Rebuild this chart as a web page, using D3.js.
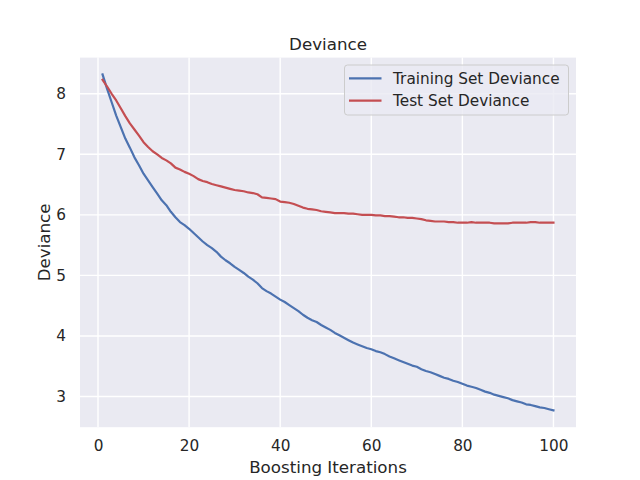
<!DOCTYPE html>
<html>
	<head>
		<title>Deviance</title>
		<script src="https://cdn.jsdelivr.net/npm/d3@7"></script>
		<style>
			body { margin: 0; background: white; }
			text {
			  font-family: "DejaVu Sans", sans-serif;
			  fill: #262626;
			}
			.grid line { stroke: white; stroke-width: 1.4; }
			.tick text { font-size: 15.3px; }
		</style>
	</head>
	<body>
		<svg width="640" height="480"></svg>

		<script type="text/javascript">
			// boosting iterations 1..100
			var iterations = d3.range(1, 101);

			var trainDeviance = [
			  8.32, 8.08, 7.86, 7.64, 7.45, 7.26, 7.11, 6.95, 6.82, 6.68,
			  6.57, 6.46, 6.35, 6.24, 6.16, 6.05, 5.96, 5.88, 5.83, 5.77,
			  5.70, 5.63, 5.56, 5.50, 5.45, 5.39, 5.31, 5.25, 5.20, 5.14,
			  5.09, 5.04, 4.98, 4.93, 4.87, 4.79, 4.74, 4.70, 4.65, 4.60,
			  4.56, 4.51, 4.46, 4.41, 4.35, 4.30, 4.26, 4.23, 4.18, 4.14,
			  4.10, 4.05, 4.01, 3.97, 3.93, 3.89, 3.86, 3.83, 3.80, 3.78,
			  3.75, 3.73, 3.70, 3.66, 3.63, 3.60, 3.57, 3.54, 3.51, 3.49,
			  3.45, 3.42, 3.40, 3.37, 3.34, 3.31, 3.29, 3.26, 3.24, 3.21,
			  3.18, 3.16, 3.14, 3.11, 3.08, 3.06, 3.03, 3.01, 2.99, 2.97,
			  2.94, 2.92, 2.90, 2.87, 2.86, 2.84, 2.82, 2.81, 2.79, 2.77
			];

			var testDeviance = [
			  8.23, 8.12, 8.00, 7.89, 7.76, 7.63, 7.51, 7.41, 7.31, 7.20,
			  7.12, 7.05, 7.00, 6.94, 6.90, 6.85, 6.78, 6.75, 6.71, 6.68,
			  6.64, 6.59, 6.56, 6.54, 6.51, 6.49, 6.47, 6.45, 6.43, 6.41,
			  6.40, 6.39, 6.37, 6.36, 6.34, 6.29, 6.28, 6.27, 6.26, 6.22,
			  6.21, 6.20, 6.18, 6.15, 6.12, 6.10, 6.09, 6.08, 6.06, 6.05,
			  6.04, 6.03, 6.03, 6.03, 6.02, 6.02, 6.01, 6.00, 6.00, 6.00,
			  5.99, 5.99, 5.98, 5.98, 5.97, 5.96, 5.96, 5.95, 5.95, 5.94,
			  5.93, 5.91, 5.90, 5.89, 5.89, 5.89, 5.88, 5.88, 5.87, 5.87,
			  5.87, 5.88, 5.87, 5.87, 5.87, 5.87, 5.86, 5.86, 5.86, 5.86,
			  5.87, 5.87, 5.87, 5.87, 5.88, 5.88, 5.87, 5.87, 5.87, 5.87
			];

			var xTicks = [0, 20, 40, 60, 80, 100];
			var yTicks = [3, 4, 5, 6, 7, 8];
			var seriesNames = ["Training Set Deviance", "Test Set Deviance"];
			var seriesColors = ["#4C72B0", "#C44E52"];

			var axLeft = 80, axRight = 576, axTop = 57.6, axBottom = 427.2;

			// matplotlib style 5% margins
			var xPad = (100 - 1) * 0.05;
			var allVals = trainDeviance.concat(testDeviance);
			var yMin = d3.min(allVals), yMax = d3.max(allVals);
			var yPad = (yMax - yMin) * 0.05;

			var x = d3.scaleLinear().domain([1 - xPad, 100 + xPad]).range([axLeft, axRight]);
			var y = d3.scaleLinear().domain([yMin - yPad, yMax + yPad]).range([axBottom, axTop]);

			var svg = d3.select('svg');

			svg.append('rect')
			  .attr('x', axLeft).attr('y', axTop)
			  .attr('width', axRight - axLeft).attr('height', axBottom - axTop)
			  .attr('fill', '#EAEAF2');

			// grid
			var grid = svg.append('g').attr('class', 'grid');
			grid.selectAll('.vg').data(xTicks).enter().append('line')
			  .attr('x1', x).attr('x2', x)
			  .attr('y1', axTop).attr('y2', axBottom);
			grid.selectAll('.hg').data(yTicks).enter().append('line')
			  .attr('y1', y).attr('y2', y)
			  .attr('x1', axLeft).attr('x2', axRight);

			// axes (labels only, no spines)
			var xAxis = svg.append('g')
			  .attr('transform', 'translate(0,' + axBottom + ')')
			  .call(d3.axisBottom(x).tickValues(xTicks).tickFormat(d3.format('d')).tickSize(0).tickPadding(13));
			xAxis.select('.domain').remove();

			var yAxis = svg.append('g')
			  .attr('transform', 'translate(' + axLeft + ',0)')
			  .call(d3.axisLeft(y).tickValues(yTicks).tickFormat(d3.format('d')).tickSize(0).tickPadding(14));
			yAxis.select('.domain').remove();
			svg.selectAll('.tick text').attr('fill', '#262626').style('font-family', '"DejaVu Sans", sans-serif');

			// lines
			var line = d3.line()
			  .x(function(d, i) { return x(iterations[i]); })
			  .y(function(d) { return y(d); });

			[trainDeviance, testDeviance].forEach(function(series, k) {
			  svg.append('path')
			    .datum(series)
			    .attr('d', line)
			    .attr('fill', 'none')
			    .attr('stroke', seriesColors[k])
			    .attr('stroke-width', 2.2)
			    .attr('stroke-linejoin', 'round')
			    .attr('stroke-linecap', 'square');
			});

			// title and axis labels
			svg.append('text')
			  .attr('x', (axLeft + axRight) / 2).attr('y', 50)
			  .attr('text-anchor', 'middle')
			  .style('font-size', '16.7px')
			  .text('Deviance');

			svg.append('text')
			  .attr('x', (axLeft + axRight) / 2).attr('y', 473)
			  .attr('text-anchor', 'middle')
			  .style('font-size', '16.7px')
			  .text('Boosting Iterations');

			svg.append('text')
			  .attr('transform', 'translate(50,' + ((axTop + axBottom) / 2) + ') rotate(-90)')
			  .attr('text-anchor', 'middle')
			  .style('font-size', '16.7px')
			  .text('Deviance');

			// legend
			var legend = svg.append('g');
			legend.append('rect')
			  .attr('x', 344.5).attr('y', 65)
			  .attr('width', 224).attr('height', 50)
			  .attr('rx', 3)
			  .attr('fill', '#EAEAF2').attr('fill-opacity', 0.8)
			  .attr('stroke', '#cccccc').attr('stroke-width', 1);

			seriesNames.forEach(function(name, k) {
			  var ly = 78.3 + k * 22.4;
			  legend.append('line')
			    .attr('x1', 349).attr('x2', 381.5)
			    .attr('y1', ly).attr('y2', ly)
			    .attr('stroke', seriesColors[k]).attr('stroke-width', 2.2);
			  legend.append('text')
			    .attr('x', 393).attr('y', ly + 5.5)
			    .style('font-size', '15.3px')
			    .text(name);
			});
		</script>
	</body>
</html>
